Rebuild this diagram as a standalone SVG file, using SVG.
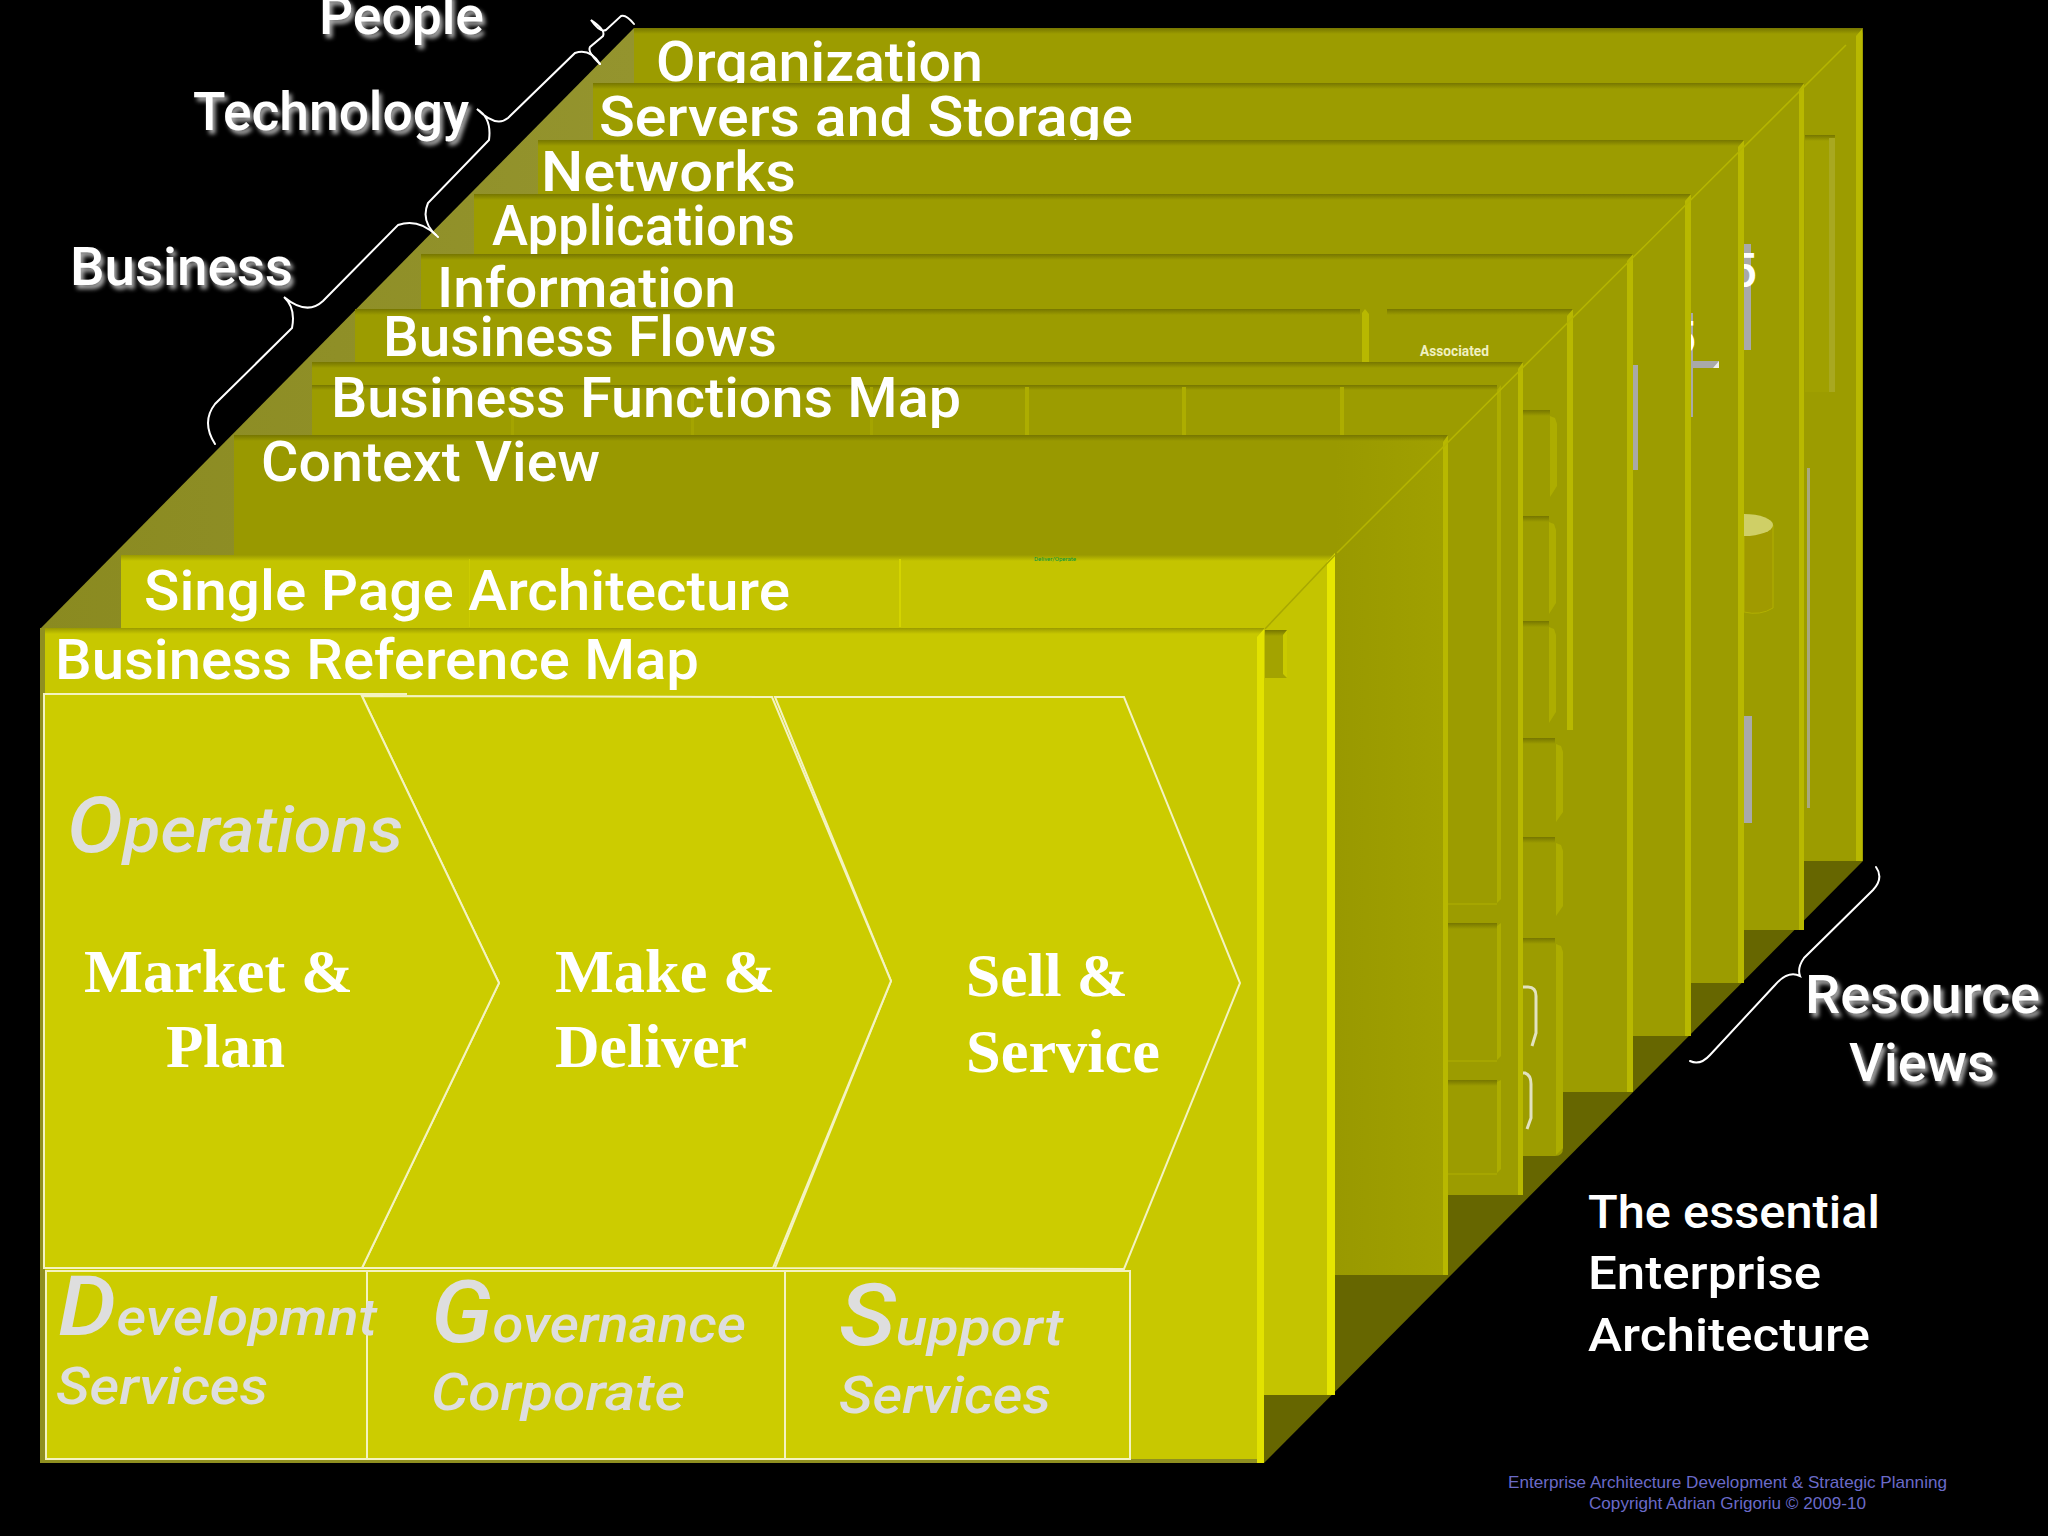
<svg xmlns="http://www.w3.org/2000/svg" width="2048" height="1536" viewBox="0 0 2048 1536">
<defs>
<style>
.h{font-family:Roboto,"Liberation Sans",sans-serif;font-weight:500;font-size:56px;fill:#fff}
.side{font-family:Roboto,"Liberation Sans",sans-serif;font-weight:500;font-size:54px;fill:#fff;filter:url(#sh)}
.note{font-family:Roboto,"Liberation Sans",sans-serif;font-weight:500;font-size:47px;fill:#fff}
.serif{font-family:"Liberation Serif",serif;font-weight:700;font-size:62px;fill:#fff}
.it{font-family:Roboto,"Liberation Sans",sans-serif;font-style:italic;font-weight:500;fill:#dedede}
.foot{font-family:"Liberation Sans",sans-serif;font-size:17px;fill:#6a6ac8}
.lay{fill:#9c9c00}
.top{fill:url(#band)}
.top2{fill:url(#band2)}
.strip{fill:#b8b800}
.gray{fill:#a9a9a9}
.brace{fill:none;stroke:#fff;stroke-width:2;stroke-linecap:round}
.chev{fill:#cccc00;stroke:#f4f3c0;stroke-width:2}
.box{fill:#cccc00;stroke:#f4f3c0;stroke-width:2}
.bev{fill:#adad00}
</style>
<linearGradient id="band" x1="0" x2="0" y1="0" y2="1"><stop offset="0" stop-color="#767600"/><stop offset="1" stop-color="#767600" stop-opacity="0"/></linearGradient>
<linearGradient id="band2" x1="0" x2="0" y1="0" y2="1"><stop offset="0" stop-color="#9a9a00"/><stop offset="1" stop-color="#9a9a00" stop-opacity="0"/></linearGradient>
<linearGradient id="ctx" x1="0" x2="1" y1="0" y2="0"><stop offset="0" stop-color="#999900"/><stop offset="1" stop-color="#a0a000"/></linearGradient>
<linearGradient id="tan" x1="0" x2="1" y1="0" y2="0"><stop offset="0" stop-color="#8a8a20"/><stop offset="1" stop-color="#94942e"/></linearGradient>
<filter id="sh" x="-10%" y="-20%" width="120%" height="150%"><feDropShadow dx="3" dy="4" stdDeviation="2" flood-color="#aaa"/></filter>
</defs>
<rect width="2048" height="1536" fill="#000"/>
<polygon id="floor" points="1264,1463 1863,861 1264,861" fill="#666600"/>
<polygon id="left-side" points="40,629 634,28 634,700 40,700" fill="url(#tan)"/>

<g id="layer-organization">
<rect class="lay" x="634" y="28" width="1229" height="833"/>
<rect class="top" x="634" y="28" width="1229" height="6"/>
<text class="h" x="656" y="81" textLength="327" lengthAdjust="spacingAndGlyphs">Organization</text>
<rect x="1805" y="135" width="30" height="257" fill="#a0a000"/>
<rect class="top" x="1805" y="135" width="30" height="6"/>
<rect x="1829" y="138" width="6" height="254" fill="#a8a820"/>
<rect x="1807" y="468" width="3" height="340" fill="#a8a880"/>
<polygon class="strip" points="1856,36 1862,29 1862,861 1856,861"/>
</g>
<g id="layer-servers">
<rect class="lay" x="593" y="83" width="1211" height="847"/>
<rect class="top" x="593" y="83" width="1211" height="6"/>
<text class="h" x="599" y="136" textLength="534" lengthAdjust="spacingAndGlyphs">Servers and Storage</text>
<rect class="gray" x="1744" y="244" width="7" height="106"/>
<rect class="gray" x="1744" y="716" width="8" height="107"/>
<text class="h" x="1757" y="287" text-anchor="end" style="font-size:48px">5</text>
<path d="M1744,525V612Q1760,616 1773,608V525Z" fill="#a09a00" stroke="#b2b000"/>
<ellipse cx="1744" cy="525" rx="29" ry="11" fill="#cfcf66"/>
<polygon class="strip" points="1799,90 1804,83 1804,930 1799,930"/>
</g>
<g id="layer-networks">
<rect class="lay" x="538" y="140" width="1206" height="843"/>
<rect class="top" x="538" y="140" width="1206" height="6"/>
<text class="h" x="541" y="191" textLength="255" lengthAdjust="spacingAndGlyphs">Networks</text>
<rect class="gray" x="1691" y="313" width="2" height="104"/>
<text class="h" x="1696" y="353" text-anchor="end" style="font-size:44px">5</text>
<polygon class="gray" points="1691,361 1719,361 1719,368 1691,368"/>
<polygon points="1713,368 1719,361 1719,368" fill="#eee"/>
<polygon class="strip" points="1738,147 1744,140 1744,983 1738,983"/>
</g>
<g id="layer-applications">
<rect class="lay" x="474" y="194" width="1217" height="842"/>
<rect class="top" x="474" y="194" width="1217" height="6"/>
<text class="h" x="492" y="245" textLength="303" lengthAdjust="spacingAndGlyphs">Applications</text>
<rect class="gray" x="1633" y="365" width="5" height="105"/>
<polygon class="strip" points="1685,201 1691,194 1691,1036 1685,1036"/>
</g>
<g id="layer-information">
<rect class="lay" x="421" y="254" width="1212" height="838"/>
<rect class="top" x="421" y="254" width="1212" height="6"/>
<text class="h" x="437" y="307" textLength="299" lengthAdjust="spacingAndGlyphs">Information</text>
<polygon class="strip" points="1627,261 1633,254 1633,1092 1627,1092"/>
</g>
<g id="layer-business-flows">
<path class="lay" d="M355,309H1573V730H1563V1148Q1563,1156 1555,1156H355Z"/>
<rect class="top" x="355" y="309" width="1005" height="6"/>
<rect class="top" x="1387" y="309" width="186" height="6"/>
<polygon class="strip" points="1362,313 1365,309 1369,314 1369,362 1362,362"/>
<text class="h" x="383" y="356" textLength="394" lengthAdjust="spacingAndGlyphs">Business Flows</text>
<text x="1420" y="356" textLength="69" lengthAdjust="spacingAndGlyphs" style="font-family:Roboto,sans-serif;font-size:14px;font-weight:700;fill:#f0f0c0">Associated</text>
<polygon class="strip" points="1567,316 1573,309 1573,730 1567,730"/>
<g id="flow-panels">
<rect class="top" x="1523" y="410" width="27" height="6"/>
<polygon class="bev" points="1550,416 1555,418 1557,424 1557,486 1550,497"/>
<rect class="top" x="1523" y="516" width="26" height="6"/>
<polygon class="bev" points="1549,522 1554,524 1556,530 1556,603 1549,614"/>
<rect class="top" x="1523" y="621" width="26" height="6"/>
<polygon class="bev" points="1549,627 1554,629 1556,635 1556,712 1549,723"/>
<rect class="top" x="1523" y="738" width="32" height="6"/>
<polygon class="bev" points="1556,744 1561,746 1563,752 1563,812 1556,822"/>
<rect class="top" x="1523" y="837" width="32" height="6"/>
<polygon class="bev" points="1556,843 1561,845 1563,851 1563,906 1556,916"/>
<rect class="top" x="1523" y="938" width="32" height="6"/>
<polygon class="bev" points="1556,944 1561,946 1563,952 1563,1148 1556,1155"/>
<path d="M1523,987H1528Q1536,987 1536,996V1033L1532,1046" fill="none" stroke="#e2e2c0" stroke-width="3"/>
<path d="M1523,1073H1525Q1531,1075 1531,1084V1118L1527,1129" fill="none" stroke="#e2e2c0" stroke-width="3"/>
</g>
</g>
<g id="layer-business-functions">
<rect class="lay" x="312" y="362" width="1211" height="833"/>
<rect class="top" x="312" y="362" width="1211" height="6"/>
<rect class="top" x="312" y="385" width="1185" height="5"/>
<rect x="511" y="387" width="3" height="48" fill="#a4a400"/>
<rect x="691" y="387" width="3" height="48" fill="#a4a400"/>
<rect x="870" y="387" width="3" height="48" fill="#a4a400"/>
<g class="bev">
<rect x="1025" y="387" width="4" height="48"/>
<rect x="1182" y="387" width="4" height="48"/>
<rect x="1340" y="387" width="4" height="48"/>
<polygon points="1497,390 1501,385 1501,899 1497,903"/>
<polygon points="1497,926 1501,923 1501,1056 1497,1060"/>
<polygon points="1497,1082 1501,1080 1501,1169 1497,1173"/>
</g>
<rect class="top" x="1447" y="923" width="50" height="6"/>
<rect class="top" x="1447" y="1080" width="50" height="6"/>
<rect x="1447" y="903" width="50" height="2" fill="#a6a600"/>
<rect x="1447" y="1060" width="50" height="2" fill="#a6a600"/>
<rect x="1447" y="1173" width="50" height="2" fill="#a6a600"/>
<text class="h" x="331" y="417" textLength="630" lengthAdjust="spacingAndGlyphs">Business Functions Map</text>
<polygon class="strip" points="1518,369 1523,362 1523,1195 1518,1195"/>
</g>
<g id="layer-context">
<rect x="234" y="435" width="1214" height="840" fill="#999900"/>
<rect x="1335" y="435" width="108" height="840" fill="url(#ctx)"/>
<rect class="top" x="234" y="435" width="1214" height="6"/>
<text class="h" x="261" y="481" textLength="339" lengthAdjust="spacingAndGlyphs">Context View</text>
<polygon class="strip" points="1443,442 1448,435 1448,1275 1443,1275"/>
</g>
<g id="layer-single-page">
<rect x="121" y="555" width="1214" height="840" fill="#c4c400"/>
<rect class="top2" x="121" y="555" width="1214" height="6"/>
<rect x="469" y="559" width="1" height="68" fill="#cccc00"/>
<rect x="899" y="559" width="2" height="68" fill="#d4d400"/>
<text class="h" x="144" y="610" textLength="646" lengthAdjust="spacingAndGlyphs">Single Page Architecture</text>
<text x="1034" y="561" textLength="42" lengthAdjust="spacingAndGlyphs" style="font-family:Roboto,sans-serif;font-size:6px;fill:#009944">Deliver/Operate</text>
<rect x="1265" y="630" width="22" height="48" fill="#a3a300"/>
<rect class="top" x="1265" y="630" width="22" height="6"/>
<polygon points="1283,635 1287,630 1287,678 1283,674" fill="#caca00"/>
<polygon points="1327,562 1335,553 1335,1395 1327,1395" fill="#e6e600"/>
</g>
<g id="layer-business-reference">
<rect x="40" y="628" width="1224" height="835" fill="#c8c800"/>
<rect class="top2" x="40" y="628" width="1224" height="6"/>
<rect x="40" y="628" width="5" height="835" fill="#8f8f20"/>
<rect x="40" y="1459" width="1224" height="4" fill="#8f8f20"/>
<polygon points="1257,637 1264,629 1264,1463 1257,1463" fill="#e2e200"/>
<text class="h" x="55" y="679" textLength="644" lengthAdjust="spacingAndGlyphs">Business Reference Map</text>
</g>
<g id="diagonals" fill="none">
<path d="M1846,45L1337,553" stroke="#b5b500" stroke-width="1.5"/>
<path d="M1335,555L1265,629" stroke="#a8a800" stroke-width="1.5"/>
</g>

<g id="chevron-sell">
<polygon class="chev" points="775,697 1124,697 1240,983 1124,1269 775,1268 891,981"/>
<text class="serif" x="966" y="996" textLength="162" lengthAdjust="spacingAndGlyphs">Sell &amp;</text>
<text class="serif" x="966" y="1072" textLength="194" lengthAdjust="spacingAndGlyphs">Service</text>
</g>
<g id="chevron-make">
<polygon class="chev" points="362,696 772,697 891,981 773,1268 362,1268 499,983"/>
<text class="serif" x="555" y="992" textLength="220" lengthAdjust="spacingAndGlyphs">Make &amp;</text>
<text class="serif" x="555" y="1067" textLength="192" lengthAdjust="spacingAndGlyphs">Deliver</text>
</g>
<g id="chevron-market">
<polygon class="chev" points="44,694 361,694 499,983 362,1268 44,1268"/>
<line x1="361" y1="694" x2="407" y2="694" stroke="#f4f3c0" stroke-width="2"/>
<text class="it" x="67" y="852" textLength="336" lengthAdjust="spacingAndGlyphs" style="font-size:64px"><tspan style="font-size:78px">O</tspan>perations</text>
<text class="serif" x="84" y="992" textLength="269" lengthAdjust="spacingAndGlyphs">Market &amp;</text>
<text class="serif" x="166" y="1067" textLength="119" lengthAdjust="spacingAndGlyphs">Plan</text>
</g>
<g id="box-governance">
<rect class="box" x="367" y="1271" width="418" height="188"/>
<text class="it" x="431" y="1342" textLength="315" lengthAdjust="spacingAndGlyphs" style="font-size:52px"><tspan style="font-size:86px">G</tspan>overnance</text>
<text class="it" x="431" y="1410" textLength="254" lengthAdjust="spacingAndGlyphs" style="font-size:52px">Corporate</text>
</g>
<g id="box-support">
<rect class="box" x="785" y="1271" width="345" height="188"/>
<text class="it" x="839" y="1345" textLength="224" lengthAdjust="spacingAndGlyphs" style="font-size:52px"><tspan style="font-size:86px">S</tspan>upport</text>
<text class="it" x="839" y="1413" textLength="212" lengthAdjust="spacingAndGlyphs" style="font-size:52px">Services</text>
</g>
<g id="box-development">
<rect class="box" x="46" y="1271" width="321" height="188"/>
<text class="it" x="58" y="1335" textLength="319" lengthAdjust="spacingAndGlyphs" style="font-size:52px"><tspan style="font-size:84px">D</tspan>evelopmnt</text>
<text class="it" x="56" y="1404" textLength="212" lengthAdjust="spacingAndGlyphs" style="font-size:52px">Services</text>
</g>

<g id="braces">
<path class="brace" d="M634,24Q626,14 621,16L606,30Q600,33 591,20Q606,30 603,36L590,47Q587,52 600,64"/>
<path class="brace" d="M600,64Q590,48 575,53L508,118Q496,128 477,109Q492,118 489,140L428,203Q420,222 438,237"/>
<path class="brace" d="M436,235Q418,218 398,225L323,301Q307,316 284,297Q296,308 292,328L215,404Q201,422 215,444"/>
<path class="brace" d="M1876,867Q1884,878 1873,890L1804,958Q1797,968 1800,976Q1788,970 1775,985L1710,1055Q1700,1066 1690,1061"/>
</g>
<g id="group-labels">
<text class="side" x="319" y="34" textLength="165" lengthAdjust="spacingAndGlyphs">People</text>
<text class="side" x="193" y="130" textLength="276" lengthAdjust="spacingAndGlyphs">Technology</text>
<text class="side" x="70" y="285" textLength="223" lengthAdjust="spacingAndGlyphs">Business</text>
<text class="side" x="1805" y="1013" textLength="235" lengthAdjust="spacingAndGlyphs">Resource</text>
<text class="side" x="1849" y="1081" textLength="146" lengthAdjust="spacingAndGlyphs">Views</text>
</g>
<g id="caption">
<text class="note" x="1588" y="1228" textLength="292" lengthAdjust="spacingAndGlyphs">The essential</text>
<text class="note" x="1588" y="1289" textLength="233" lengthAdjust="spacingAndGlyphs">Enterprise</text>
<text class="note" x="1588" y="1351" textLength="282" lengthAdjust="spacingAndGlyphs">Architecture</text>
<text class="foot" x="1508" y="1488" textLength="439" lengthAdjust="spacingAndGlyphs">Enterprise Architecture Development &amp; Strategic Planning</text>
<text class="foot" x="1589" y="1509" textLength="277" lengthAdjust="spacingAndGlyphs">Copyright Adrian Grigoriu © 2009-10</text>
</g>
</svg>
